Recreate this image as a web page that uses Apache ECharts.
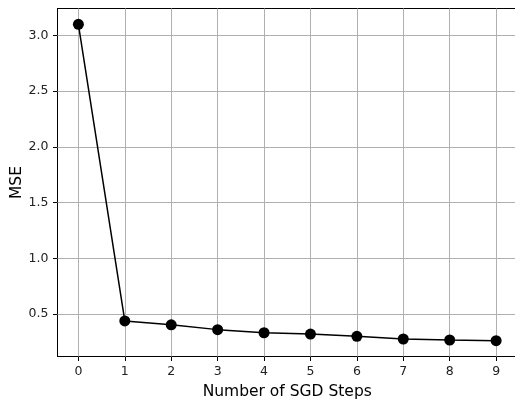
<!DOCTYPE html>
<html>
<head>
<meta charset="utf-8">
<script src="https://cdn.jsdelivr.net/npm/echarts@6/dist/echarts.min.js"></script>
<style>html,body{margin:0;padding:0;background:#fff;}#c{width:515px;height:401px;}</style>
</head>
<body>
<div id="c"></div>
<script>
const steps = [0, 1, 2, 3, 4, 5, 6, 7, 8, 9];
const mse = [3.10, 0.44, 0.405, 0.362, 0.334, 0.322, 0.302, 0.278, 0.269, 0.263];
const xTicks = [0, 1, 2, 3, 4, 5, 6, 7, 8, 9];
const yTicks = [0.5, 1.0, 1.5, 2.0, 2.5, 3.0];

const font = 'DejaVu Sans';
const chart = echarts.init(document.getElementById('c'), null, {renderer: 'canvas'});
const gridStyle = {color: '#b0b0b0', width: 1, type: 'solid'};
chart.setOption({
  animation: false,
  backgroundColor: '#fff',
  grid: {left: 57.5, top: 8.5, right: -2, bottom: 44.5, containLabel: false, outerBoundsMode: 'none', show: false},
  xAxis: [{
    type: 'value', min: -0.45, max: 9.45,
    name: 'Number of SGD Steps', nameLocation: 'middle', nameGap: 27,
    nameTextStyle: {fontFamily: font, fontSize: 15.5, color: '#000'},
    axisLine: {show: true, onZero: false, lineStyle: {color: '#000', width: 1}},
    axisTick: {show: true, customValues: xTicks, length: 4.5, lineStyle: {color: '#000'}},
    axisLabel: {customValues: xTicks, fontFamily: font, fontSize: 12.5, color: '#222', margin: 8.5,
      formatter: v => String(v)},
    splitLine: {show: false}
  }, {
    type: 'value', min: -0.45, max: 9.45, position: 'top',
    axisLine: {show: true, onZero: false, lineStyle: {color: '#000', width: 1}},
    axisTick: {show: false}, axisLabel: {show: false}, splitLine: {show: false}
  }],
  yAxis: {
    type: 'value', min: 0.121, max: 3.242,
    name: 'MSE', nameLocation: 'middle', nameGap: 33, nameRotate: 90, nameMoveOverlap: false,
    nameTextStyle: {fontFamily: font, fontSize: 15.5, color: '#000'},
    axisLine: {show: true, onZero: false, lineStyle: {color: '#000', width: 1}},
    axisTick: {show: true, customValues: yTicks, length: 4.5, lineStyle: {color: '#000'}},
    axisLabel: {customValues: yTicks, fontFamily: font, fontSize: 12.5, color: '#222', margin: 9,
      formatter: v => v.toFixed(1)},
    splitLine: {show: false}
  },
  series: [{
    type: 'line',
    data: steps.map((s, i) => [s, mse[i]]),
    symbol: 'circle', symbolSize: 11,
    lineStyle: {color: '#000', width: 1.5},
    itemStyle: {color: '#000'},
    z: 5,
    markLine: {
      silent: true, symbol: 'none', label: {show: false}, animation: false,
      lineStyle: gridStyle, z: 1,
      data: xTicks.map(v => ({xAxis: v})).concat(yTicks.map(v => ({yAxis: v})))
    }
  }]
});
</script>
</body>
</html>
